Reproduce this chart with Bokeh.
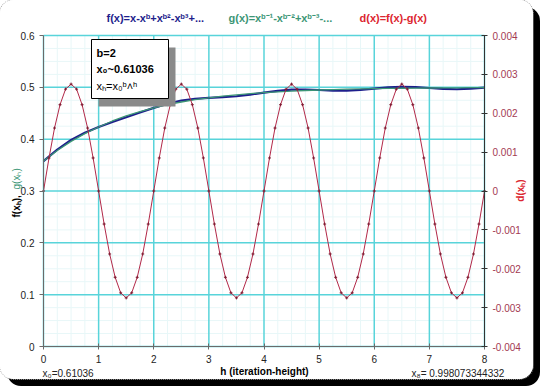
from math import pi
from bokeh.plotting import figure
from bokeh.models import Range1d, LinearAxis, FixedTicker, CustomJSTickFormatter, Label
from bokeh.embed import file_html
from bokeh.resources import INLINE

# ---------------- data ----------------
h_fg = [0, 0.25, 0.5, 0.75, 1, 1.25, 1.5, 1.75, 2, 2.25, 2.5, 2.75, 3, 3.25, 3.5, 3.75,
        4, 4.25, 4.5, 4.75, 5, 5.25, 5.5, 5.75, 6, 6.25, 6.5, 6.75, 7, 7.25, 7.5, 7.75, 8]
f_vals = [0.3577, 0.3800, 0.3985, 0.4125, 0.4235, 0.4332, 0.4422, 0.4514, 0.4604, 0.4684,
          0.4745, 0.4780, 0.4798, 0.4811, 0.4828, 0.4860, 0.4898, 0.4933, 0.4956, 0.4958,
          0.4949, 0.4938, 0.4936, 0.4951, 0.4975, 0.4998, 0.5010, 0.5004, 0.4987, 0.4970,
          0.4963, 0.4974, 0.4994]
g_vals = [0.3577, 0.3781, 0.3957, 0.4106, 0.4235, 0.4351, 0.4450, 0.4533, 0.4604, 0.4665,
          0.4717, 0.4761, 0.4798, 0.4830, 0.4856, 0.4879, 0.4898, 0.4914, 0.4928, 0.4939,
          0.4949, 0.4957, 0.4964, 0.4970, 0.4975, 0.4979, 0.4982, 0.4985, 0.4987, 0.4989,
          0.4991, 0.4993, 0.4994]

h_d = [0.0, 0.1, 0.2, 0.3, 0.4, 0.5, 0.6, 0.7, 0.8, 0.9,
       1.0, 1.1, 1.2, 1.3, 1.4, 1.5, 1.6, 1.7, 1.8, 1.9,
       2.0, 2.1, 2.2, 2.3, 2.4, 2.5, 2.6, 2.7, 2.8, 2.9,
       3.0, 3.1, 3.2, 3.3, 3.4, 3.5, 3.6, 3.7, 3.8, 3.9,
       4.0, 4.1, 4.2, 4.3, 4.4, 4.5, 4.6, 4.7, 4.8, 4.9,
       5.0, 5.1, 5.2, 5.3, 5.4, 5.5, 5.6, 5.7, 5.8, 5.9,
       6.0, 6.1, 6.2, 6.3, 6.4, 6.5, 6.6, 6.7, 6.8, 6.9,
       7.0, 7.1, 7.2, 7.3, 7.4, 7.5, 7.6, 7.7, 7.8, 7.9, 8.0]
d_vals = [0, 0.00085, 0.00162, 0.00222, 0.00262, 0.00275, 0.00262, 0.00222, 0.00162, 0.00085,
          0, -0.00085, -0.00162, -0.00222, -0.00262, -0.00275, -0.00262, -0.00222, -0.00162, -0.00085,
          0, 0.00085, 0.00162, 0.00222, 0.00262, 0.00275, 0.00262, 0.00222, 0.00162, 0.00085,
          0, -0.00085, -0.00162, -0.00222, -0.00262, -0.00275, -0.00262, -0.00222, -0.00162, -0.00085,
          0, 0.00085, 0.00162, 0.00222, 0.00262, 0.00275, 0.00262, 0.00222, 0.00162, 0.00085,
          0, -0.00085, -0.00162, -0.00222, -0.00262, -0.00275, -0.00262, -0.00222, -0.00162, -0.00085,
          0, 0.00085, 0.00162, 0.00222, 0.00262, 0.00275, 0.00262, 0.00222, 0.00162, 0.00085,
          0, -0.00085, -0.00162, -0.00222, -0.00262, -0.00275, -0.00262, -0.00222, -0.00162, -0.00085,
          0]

x_ticks = [0, 1, 2, 3, 4, 5, 6, 7, 8]
left_ticks = [0, 0.1, 0.2, 0.3, 0.4, 0.5, 0.6]
right_ticks = [-0.004, -0.003, -0.002, -0.001, 0, 0.001, 0.002, 0.003, 0.004]

title_f = "f(x)=x-xᵇ+xᵇ²-xᵇ³+..."
title_g = "g(x)=xᵇ⁻¹-xᵇ⁻²+xᵇ⁻³-..."
title_d = "d(x)=f(x)-g(x)"
box_lines = ["b=2", "x₀~0.61036", "xₕ=x₀ᵇ˄ʰ"]
x_label = "h (iteration-height)"
x0_text = "x₀=0.61036"
x8_text = "x₈= 0.998073344332"

# ---------------- layout (canvas pixels) ----------------
W, H = 533, 379
X0, X1, YT, YB = 43, 484, 35, 346          # chart area inside the canvas
XMIN, XMAX, YMIN, YMAX, DMIN, DMAX = 0, 8, 0, 0.6, -0.004, 0.004
sx = (X1 - X0) / (XMAX - XMIN)
sy = (YB - YT) / (YMAX - YMIN)
sd = (YB - YT) / (DMAX - DMIN)

FONT = "Liberation Sans"
GRID = "#58D4DA"
MINOR = "#E8F7F8"
BLUE = "#1E1E8C"
GREEN = "#3C9676"
RED = "#B22848"
RED_T = "#DC2630"

p = figure(width=W, height=H, output_backend="svg", toolbar_location=None,
           x_axis_location=None, y_axis_location=None,
           x_range=Range1d(XMIN - X0 / sx, XMAX + (W - X1) / sx),
           y_range=Range1d(YMIN - (H - YB) / sy, YMAX + YT / sy),
           min_border=0, min_border_left=0, min_border_right=0,
           min_border_top=0, min_border_bottom=0,
           background_fill_color="white", border_fill_color="white")
p.extra_y_ranges = {"d": Range1d(DMIN - (H - YB) / sd, DMAX + YT / sd),
                    "cy": Range1d(H, 0)}
p.extra_x_ranges = {"cx": Range1d(0, W)}
p.outline_line_color = None
p.xgrid.visible = False
p.ygrid.visible = False
p.styles = {"box-shadow": "7px 7px 0 #000", "border-radius": "14px",
            "overflow": "hidden", "outline": "1px dotted #9a9a9a"}


def minor_list(ticks, n):
    out = []
    for a, b in zip(ticks[:-1], ticks[1:]):
        for k in range(1, n):
            out.append(a + (b - a) * k / n)
    return out


# ---------------- grid lines (bounded to the chart area) ----------------
x_minor = minor_list(x_ticks, 4)
y_minor = minor_list(left_ticks, 4)
n, m = len(x_minor), len(y_minor)
p.segment(x0=x_minor, y0=[YMIN] * n, x1=x_minor, y1=[YMAX] * n, color=MINOR, line_width=1)
p.segment(x0=[XMIN] * m, y0=y_minor, x1=[XMAX] * m, y1=y_minor, color=MINOR, line_width=1)
n, m = len(x_ticks), len(left_ticks)
p.segment(x0=x_ticks, y0=[YMIN] * n, x1=x_ticks, y1=[YMAX] * n, color=GRID, line_width=1.5)
p.segment(x0=[XMIN] * m, y0=left_ticks, x1=[XMAX] * m, y1=left_ticks, color=GRID, line_width=1.5)

# ---------------- axes ----------------
def style_axis(ax, line_col, lab_col):
    ax.axis_line_color = line_col
    ax.axis_line_width = 1
    ax.major_tick_line_color = line_col
    ax.minor_tick_line_color = None
    ax.major_label_text_font = FONT
    ax.major_label_text_font_size = "10px"
    ax.major_label_text_color = lab_col

xax = LinearAxis(fixed_location=YMIN, bounds=(XMIN, XMAX), ticker=FixedTicker(ticks=x_ticks))
style_axis(xax, "#6a6a6a", "#222222")
xax.major_tick_in = 3
xax.major_tick_out = 3
xax.major_label_standoff = 5
p.add_layout(xax, "below")

yax = LinearAxis(fixed_location=XMIN, bounds=(YMIN, YMAX), ticker=FixedTicker(ticks=left_ticks),
                 formatter=CustomJSTickFormatter(code="return String(Math.round(tick*10)/10);"))
style_axis(yax, "#6a6a6a", "#222222")
yax.major_tick_in = 0
yax.major_tick_out = 4
yax.major_label_standoff = 5
p.add_layout(yax, "left")

rax = LinearAxis(y_range_name="d", fixed_location=XMAX, bounds=(DMIN, DMAX),
                 ticker=FixedTicker(ticks=right_ticks),
                 formatter=CustomJSTickFormatter(code="return String(Math.round(tick*1000)/1000);"))
style_axis(rax, "#333333", "#A33A52")
rax.major_tick_in = 3
rax.major_tick_out = 3
rax.major_label_standoff = 5
p.add_layout(rax, "right")

# ---------------- series ----------------
p.line(h_fg, f_vals, color=BLUE, line_width=2.2)
p.line(h_fg, g_vals, color=GREEN, line_width=1.3)
p.line(h_d, d_vals, y_range_name="d", color=RED, line_width=1)
p.scatter(h_d, d_vals, y_range_name="d", marker="cross", size=3, color="#7E1A30", line_width=1)

# ---------------- info box (canvas pixels) ----------------
p.quad(left=98, right=175, top=47, bottom=106, x_range_name="cx", y_range_name="cy",
       fill_color="#8a8a8a", line_color=None)
p.quad(left=91, right=168, top=39, bottom=98, x_range_name="cx", y_range_name="cy",
       fill_color="white", line_color="black", line_width=1)


def lab(x, y, text, size="10px", style="normal", color="black", align="left", angle=0):
    p.add_layout(Label(x=x, y=y, x_range_name="cx", y_range_name="cy", text=text,
                       text_font=FONT, text_font_size=size, text_font_style=style,
                       text_color=color, text_align=align, text_baseline="middle",
                       angle=angle))


lab(96, 52, box_lines[0], "11px", "bold")
lab(96, 68, box_lines[1], "11px", "bold")
lab(96, 85, box_lines[2], "11px", "normal")

# titles
lab(106, 17, title_f, "11px", "bold", BLUE)
lab(228, 17, title_g, "11px", "bold", GREEN)
lab(359, 17, title_d, "11px", "bold", RED_T)

# axis labels and notes
lab(16, 217, "f(xₕ),", "10px", "bold", "black", "left", pi / 2)
lab(16, 189, "g(xₕ)", "10px", "normal", GREEN, "left", pi / 2)
lab(520, 190, "d(xₕ)", "10px", "bold", RED_T, "center", pi / 2)
lab(264, 371, x_label, "10px", "bold", "black", "center")
lab(42, 373, x0_text, "10px", "normal", "#222222")
lab(411, 373, x8_text, "10px", "normal", "#222222")

open("out.html", "w").write(file_html(p, INLINE))
